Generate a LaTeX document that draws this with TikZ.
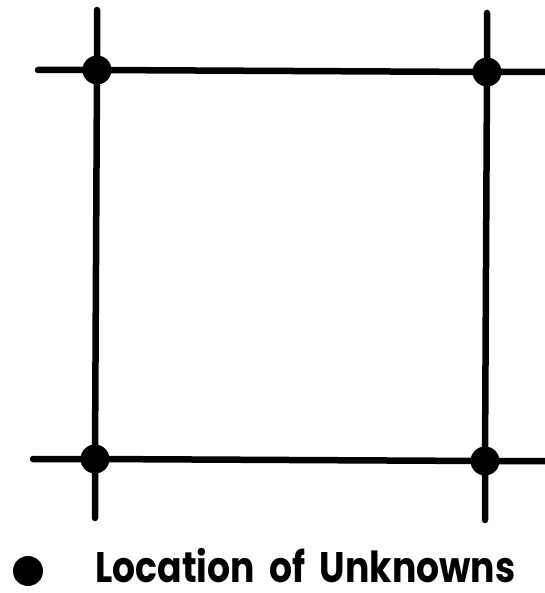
\documentclass[tikz,border=0pt]{standalone}
\usepackage{fontspec}
\setmainfont{Poppins}
\begin{document}
\begin{tikzpicture}[x=1pt,y=-1pt,
  gridline/.style={line width=6.5pt,line cap=round},
  unknown/.style={circle,fill=black,inner sep=0pt,minimum size=29pt}]
\useasboundingbox (0,0) rectangle (544,593);
% unknowns
\node[unknown] (tl) at (97,70) {};
\node[unknown] (tr) at (487,72) {};
\node[unknown] (bl) at (95,459) {};
\node[unknown] (br) at (485,461) {};
% line ends
\coordinate (tlU) at (97,10);
\coordinate (blD) at (95,518);
\coordinate (trU) at (487,13);
\coordinate (brD) at (485,520);
\coordinate (tlL) at (38,70);
\coordinate (trR) at (548,72);
\coordinate (blL) at (33,459);
\coordinate (brR) at (548,461);
\draw[gridline] (tlU) -- (tl.center) -- (bl.center) -- (blD);
\draw[gridline] (trU) -- (tr.center) -- (br.center) -- (brD);
\draw[gridline] (tlL) -- (tl.center) -- (tr.center) -- (trR);
\draw[gridline] (blL) -- (bl.center) -- (br.center) -- (brR);
% legend
\node[unknown,minimum size=30pt] (leg) at (28,571) {};
\node[anchor=base west,inner sep=0pt,font=\fontsize{36.2}{38}\selectfont\bfseries] (legtext) at (95,582.5) {\scalebox{1}[1.18]{Location\hspace{0.4em}of\hspace{0.4em}Unknowns}};
\end{tikzpicture}
\end{document}
